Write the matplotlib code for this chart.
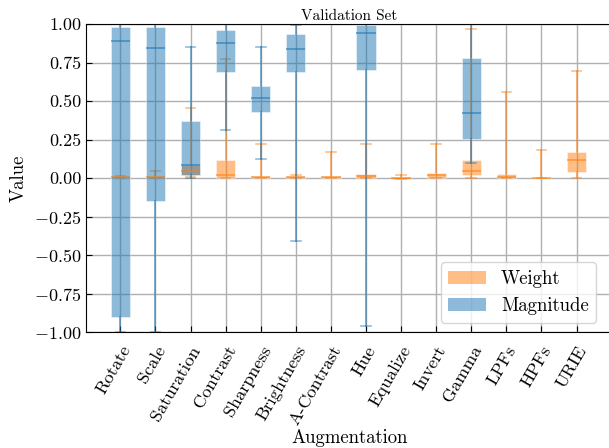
import matplotlib
matplotlib.use("Agg")
import matplotlib.pyplot as plt
from matplotlib.patches import Patch

plt.rcParams["font.family"] = "cmr10"
plt.rcParams["mathtext.fontset"] = "cm"
plt.rcParams["axes.formatter.use_mathtext"] = True

augmentations = ["Rotate", "Scale", "Saturation", "Contrast", "Sharpness", "Brightness",
                 "A-Contrast", "Hue", "Equalize", "Invert", "Gamma", "LPFs", "HPFs", "URIE"]

# weight stats per augmentation: min, q1, median, q3, max
w_min = [0.0, 0.0, 0.01, 0.0, 0.0, 0.0, 0.0, 0.0, -0.004, 0.0, 0.0, 0.0, -0.002, 0.002]
w_q1 = [0.0, 0.0, 0.02, 0.0, 0.0, 0.0, 0.0, 0.0, -0.004, 0.0, 0.021, 0.0, -0.002, 0.036]
w_med = [0.005, 0.008, 0.045, 0.02, 0.005, 0.004, 0.004, 0.012, 0.0, 0.017, 0.043, 0.008, 0.0, 0.114]
w_q3 = [0.012, 0.013, 0.082, 0.119, 0.015, 0.01, 0.01, 0.028, 0.006, 0.034, 0.117, 0.026, 0.003, 0.171]
w_max = [0.015, 0.045, 0.456, 0.773, 0.22, 0.02, 0.169, 0.218, 0.02, 0.22, 0.969, 0.556, 0.182, 0.692]

# magnitude stats, only for the augmentations that have a magnitude
mag_idx = [0, 1, 2, 3, 4, 5, 7, 10]
m_min = [-1.0, -1.0, 0.0, 0.309, 0.121, -0.407, -0.959, 0.097]
m_q1 = [-0.90, -0.15, 0.02, 0.688, 0.428, 0.688, 0.701, 0.255]
m_med = [0.89, 0.844, 0.082, 0.879, 0.521, 0.837, 0.939, 0.422]
m_q3 = [0.983, 0.983, 0.372, 0.963, 0.597, 0.937, 0.995, 0.779]
m_max = [1.0, 1.0, 0.848, 1.0, 0.853, 0.995, 1.0, 1.0]


def make_stats(lo, q1, med, q3, hi):
    return [dict(whislo=a, q1=b, med=c, q3=d, whishi=e, fliers=[])
            for a, b, c, d, e in zip(lo, q1, med, q3, hi)]


def draw(ax, stats, pos, color):
    ax.bxp(stats, positions=pos, widths=0.55, patch_artist=True, showfliers=False,
           boxprops=dict(facecolor=color, edgecolor="white", alpha=0.5, linewidth=0.6),
           whiskerprops=dict(color=color, alpha=0.6, linewidth=1.3),
           capprops=dict(color=color, alpha=0.5, linewidth=1.2),
           medianprops=dict(color=color, alpha=0.6, linewidth=1.3),
           manage_ticks=False)


fig = plt.figure(figsize=(6.09, 4.48), dpi=100)
ax = fig.add_axes([86 / 609, 116 / 448, 527 / 609, 308 / 448])

positions = list(range(1, len(augmentations) + 1))
draw(ax, make_stats(w_min, w_q1, w_med, w_q3, w_max), positions, "#ff7f0e")
draw(ax, make_stats(m_min, m_q1, m_med, m_q3, m_max), [positions[i] for i in mag_idx], "#1f77b4")

ax.set_xlim(0.02, 15.04)
ax.set_ylim(-1.0, 1.0)
ax.set_yticks([-1.0, -0.75, -0.5, -0.25, 0.0, 0.25, 0.5, 0.75, 1.0])
ax.yaxis.set_major_formatter(matplotlib.ticker.FuncFormatter(
    lambda v, p: ("$-$" if v < 0 else "") + f"{abs(v):.2f}"))
ax.set_xticks(positions)
ax.set_xticklabels(augmentations, rotation=60, ha="right", rotation_mode="anchor", fontsize=13.5)
ax.tick_params(axis="both", direction="in", labelsize=13, length=4)
ax.tick_params(axis="x", pad=8)
ax.grid(True, color="#b0b0b0", linewidth=1)
ax.set_axisbelow(True)

ax.set_title("Validation Set", fontsize=11, pad=3)
ax.set_xlabel("Augmentation", fontsize=13.5, labelpad=1)
ax.set_ylabel("Value", fontsize=13.5)

handles = [Patch(facecolor="#ff7f0e", alpha=0.5), Patch(facecolor="#1f77b4", alpha=0.5)]
ax.legend(handles, ["Weight", "Magnitude"], loc="lower right", fontsize=13.5,
          bbox_to_anchor=(0.986, 0.0))

fig.savefig("out.png", dpi=100)
